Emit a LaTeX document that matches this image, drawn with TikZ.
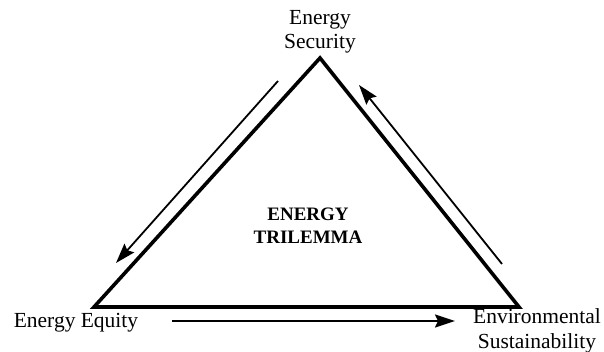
\documentclass[tikz,border=0pt]{standalone}
\usepackage{fontspec}
\setmainfont{Liberation Serif}
\usetikzlibrary{arrows.meta}
\begin{document}
\begin{tikzpicture}[x=1pt,y=-1pt,
  lbl/.style={font=\fontsize{21.5}{24.5}\selectfont, align=center, inner sep=0pt},
  tri/.style={line width=3.6pt, line join=miter},
  flow/.style={line width=1.8pt, -{Stealth[length=20pt,width=13pt,inset=3pt]}}]
\useasboundingbox (0,0) rectangle (604,352);
\coordinate (A) at (320,58);
\coordinate (B) at (94,307);
\coordinate (C) at (519,307);
\draw[tri] (A) -- (B) -- (C) -- cycle;
\node[lbl] (sec) at (320,32) {Energy\\Security};
\node[lbl] (eq) at (76,323) {Energy Equity};
\node[lbl] (env) at (537,331) {Environmental\\Sustainability};
\node[lbl, font=\fontsize{19}{23}\selectfont\bfseries] (tl) at (308,226) {ENERGY\\TRILEMMA};
\coordinate (l1) at (278,81);
\coordinate (l2) at (116,263);
\coordinate (r1) at (502,264);
\coordinate (r2) at (359,85);
\coordinate (b1) at (172,321);
\coordinate (b2) at (455,321);
\draw[flow] (l1) -- (l2);
\draw[flow] (r1) -- (r2);
\draw[flow] (b1) -- (b2);
\end{tikzpicture}
\end{document}
